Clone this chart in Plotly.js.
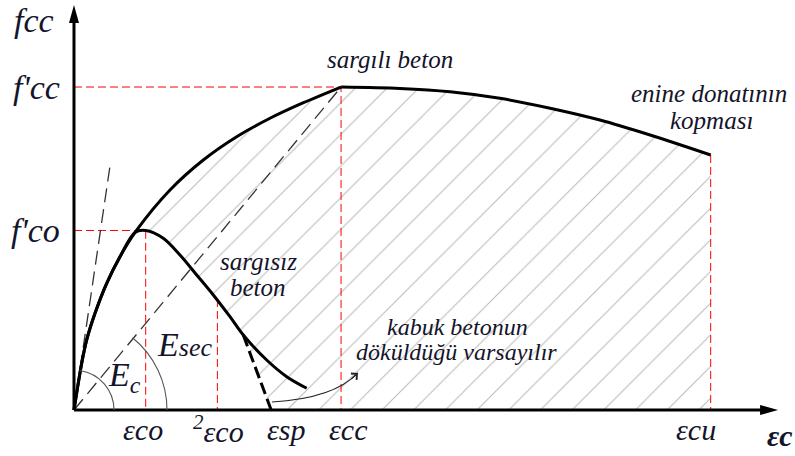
<!DOCTYPE html>
<html>
<head>
<meta charset="utf-8">
<script src="https://cdn.plot.ly/plotly-3.0.1.min.js"></script>
<style>html,body{margin:0;padding:0;background:#fff}</style>
</head>
<body>
<div id="plot" style="width:795px;height:456px"></div>
<script>
// strain in per mille, stress in MPa
var epsCo = 2.0, eps2Co = 4.0, epsSp = 5.5, epsCc = 7.45, epsCu = 17.76;
var fCo = 29.92, fCc = 53.83;

// confined concrete (sargılı beton)
var confX = [0, 0.215, 0.354, 0.586, 0.912, 1.283, 1.743, 2.678, 3.607, 4.538, 5.467, 6.40, 7.45, 9.09, 10.49, 11.88, 13.28, 14.67, 16.07, 17.76];
var confY = [0, 7.78, 11.67, 16.12, 21.12, 25.55, 29.92, 36.67, 41.67, 45.55, 48.62, 51.22, 53.83, 53.6, 53.05, 51.95, 50.3, 48.33, 45.83, 42.5];
var peakIdx = 12;

// unconfined concrete (sargısız beton)
var uncX = [0, 0.215, 0.354, 0.586, 0.912, 1.283, 1.70, 2.0, 2.49, 2.957, 3.423, 3.886, 4.351, 4.722, 5.375, 5.933, 6.491];
var uncY = [0, 7.78, 11.67, 16.12, 21.12, 25.55, 29.6, 29.92, 28.62, 25.83, 22.5, 19.17, 15.55, 12.5, 8.33, 5.55, 3.62];

// spalling branch (dashed)
var spallX = [4.722, epsSp];
var spallY = [12.5, 0];

// initial tangent Ec
var ecX = [0, 1.0];
var ecY = [0, 40.5];

// strain tick labels and where the red guides stop
var tickX = [epsCo, eps2Co, epsSp, epsCc, epsCu];
var tickText = ['εco', '<sup>2</sup>εco', 'εsp', 'εcc', 'εcu'];
var tickShift = [-3, 1, 15, 7, -15];
var guideX = [eps2Co, epsCu];
var guideTop = [18.5, 42.5];

// hatched area: under the confined curve, right of the unconfined / spalling branch
var hx = [], hy = [];
for (var i = 6; i < confX.length; i++) { hx.push(confX[i]); hy.push(confY[i]); }
hx.push(epsCu, epsSp); hy.push(0, 0);
for (var j = 13; j >= 6; j--) { hx.push(uncX[j]); hy.push(uncY[j]); }

var red = {color: 'red', width: 1, dash: '8px,4px'};
var thick = {color: '#000', width: 3, shape: 'spline', smoothing: 0.9};
var traces = [
  {x: hx, y: hy, mode: 'lines', fill: 'toself', line: {width: 0},
   fillcolor: 'rgba(0,0,0,0)',
   fillpattern: {shape: '/', size: 22.4, solidity: 0.05, fgcolor: '#bdbdbd', bgcolor: 'rgba(0,0,0,0)'}},
  {x: [0, epsCc, epsCc], y: [fCc, fCc, 0], mode: 'lines', line: red},
  {x: [0, epsCo, epsCo], y: [fCo, fCo, 0], mode: 'lines', line: red},
  {x: [guideX[0], guideX[0]], y: [guideTop[0], 0], mode: 'lines', line: red},
  {x: [guideX[1], guideX[1]], y: [guideTop[1], 0], mode: 'lines', line: red},
  {x: ecX, y: ecY, mode: 'lines', line: {color: '#333', width: 1.3, dash: '14px,7px'}},
  {x: [0, epsCc], y: [0, fCc], mode: 'lines', line: {color: '#333', width: 1.3, dash: '14px,7px'}},
  {x: uncX, y: uncY, mode: 'lines', line: thick},
  {x: spallX, y: spallY, mode: 'lines', line: {color: '#000', width: 3, dash: '12px,5px'}},
  // confined curve drawn in two pieces so the peak keeps its corner
  {x: confX.slice(0, peakIdx + 1), y: confY.slice(0, peakIdx + 1), mode: 'lines', line: thick},
  {x: confX.slice(peakIdx), y: confY.slice(peakIdx), mode: 'lines', line: thick}
];

function arcPath(r, deg) {
  var t = deg * Math.PI / 180, k = 4 / 3 * Math.tan(t / 4);
  var c = Math.cos(t), s = Math.sin(t);
  return 'M' + r + ',0 C' + r + ',' + (r * k) + ' ' + (r * (c + k * s)) + ',' + (r * (s - k * c)) + ' ' + (r * c) + ',' + (r * s);
}

var shapes = [
  // axes
  {type: 'line', x0: 0, y0: 0, x1: 19.3, y1: 0, line: {color: '#000', width: 3}},
  {type: 'line', x0: 0, y0: 0, x1: 0, y1: 65, line: {color: '#000', width: 3}},
  {type: 'path', xsizemode: 'pixel', ysizemode: 'pixel', xanchor: 19.64, yanchor: 0,
   path: 'M0,0 L-18,5 L-18,-5 Z', fillcolor: '#000', line: {width: 0}},
  {type: 'path', xsizemode: 'pixel', ysizemode: 'pixel', xanchor: 0, yanchor: 67.5,
   path: 'M0,0 L-5,-18 L5,-18 Z', fillcolor: '#000', line: {width: 0}},
  // modulus arcs
  {type: 'path', xsizemode: 'pixel', ysizemode: 'pixel', xanchor: 0, yanchor: 0,
   path: arcPath(40, 81.6), line: {color: '#555', width: 1.1}},
  {type: 'path', xsizemode: 'pixel', ysizemode: 'pixel', xanchor: 0, yanchor: 0,
   path: arcPath(93, 51), line: {color: '#555', width: 1.1}},
  // curved pointer from spalling strain
  {type: 'path', path: 'M5.52,1.33 C6.58,1.67 7.42,3.0 7.92,6.17', line: {color: '#222', width: 1.1}}
];

var serif = 'Liberation Serif';
var ink = '#14142a';
function label(x, y, text, size) {
  return {x: x, y: y, showarrow: false, text: text,
    font: {family: serif, size: size, color: ink, style: 'italic'}};
}
var notes = [];
for (var k = 0; k < tickX.length; k++) {
  var t = label(tickX[k], 0, tickText[k], 30);
  t.xshift = tickShift[k]; t.yshift = -19;
  notes.push(t);
}
var fccLab = label(0, fCc, "f'cc", 34); fccLab.xshift = -37;
var fcoLab = label(0, fCo, "f'co", 34); fcoLab.xshift = -38;
notes.push(
  {x: 7.92, y: 6.17, ax: 7.7, ay: 5.0, axref: 'x', ayref: 'y', showarrow: true, text: '',
   arrowhead: 4, arrowsize: 1.5, arrowwidth: 1.1, arrowcolor: '#222'},
  fccLab, fcoLab,
  label(-1.12, 65, 'fcc', 34),
  label(19.69, -4.3, '<b>εc</b>', 30),
  label(8.815, 58.5, 'sargılı beton', 25),
  label(17.71, 52.83, 'enine donatının', 25),
  label(17.77, 48.17, 'kopması', 25),
  label(5.146, 24.83, 'sargısız', 25),
  label(5.146, 20.5, 'beton', 25),
  label(10.70, 13.8, 'kabuk betonun', 24),
  label(10.66, 9.7, 'döküldüğü varsayılır', 24),
  label(1.42, 5.5, 'E<sub>c</sub>', 34),
  label(3.07, 11, "E<span style='font-size:26px'>sec</span>", 34)
);

var layout = {
  width: 795, height: 456,
  margin: {l: 0, r: 0, t: 0, b: 0},
  paper_bgcolor: '#fff', plot_bgcolor: '#fff',
  showlegend: false,
  xaxis: {range: [-2.064, 20.112], visible: false, fixedrange: true},
  yaxis: {range: [-7.667, 68.333], visible: false, fixedrange: true},
  shapes: shapes,
  annotations: notes
};

Plotly.newPlot('plot', traces, layout, {staticPlot: true});
</script>
</body>
</html>
